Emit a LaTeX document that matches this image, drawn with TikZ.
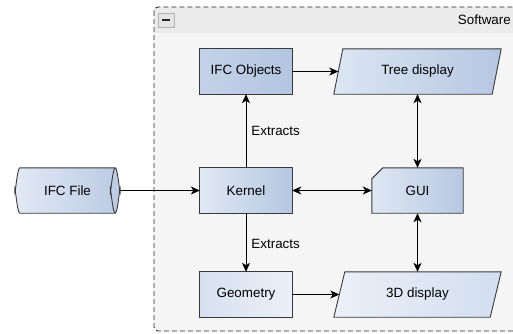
\documentclass[tikz,border=0pt]{standalone}
\usepackage{fontspec}
\setmainfont{Liberation Sans}
\usetikzlibrary{arrows.meta}
\definecolor{headc}{HTML}{EBEBEB}
\definecolor{bodyc}{HTML}{F5F5F5}
\definecolor{edgec}{HTML}{3A3A3A}
\definecolor{objsL}{HTML}{C3D2E8}
\definecolor{objsR}{HTML}{B3C5E0}
\definecolor{kerL}{HTML}{E0E8F4}
\definecolor{kerR}{HTML}{B5C7E1}
\definecolor{geoL}{HTML}{D6E0EF}
\definecolor{geoR}{HTML}{EBF0F8}
\definecolor{guiL}{HTML}{DEE7F3}
\definecolor{guiR}{HTML}{B7C8E2}
\definecolor{treeL}{HTML}{DCE6F3}
\definecolor{treeR}{HTML}{B6C7E2}
\definecolor{dispL}{HTML}{EBF0F8}
\definecolor{dispR}{HTML}{D2DEEF}
\definecolor{fileL}{HTML}{E2E9F5}
\definecolor{fileR}{HTML}{BACBE4}
\definecolor{minusc}{HTML}{E4E4E4}
\pgfdeclarelayer{bg}
\pgfdeclarelayer{shp}
\pgfsetlayers{bg,shp,main}
\begin{document}
\begin{tikzpicture}[x=1pt,y=-1pt,
  font=\fontsize{13.4}{16}\selectfont,
  box/.style={draw=none, minimum width=92pt, minimum height=45pt, inner sep=0pt},
  shapeline/.style={draw=edgec, line width=0.9pt},
  conn/.style={line width=0.9pt, -{Stealth[length=9pt,width=8pt,inset=2.5pt]}},
  biconn/.style={line width=0.9pt, {Stealth[length=9pt,width=8pt,inset=2.5pt]}-{Stealth[length=9pt,width=8pt,inset=2.5pt]}},
  lbl/.style={anchor=west, inner sep=0pt}
]
\useasboundingbox (0,0) rectangle (513,333);

% container
\begin{pgfonlayer}{bg}
\begin{scope}
\clip (0,0) rectangle (513,333);
\fill[bodyc, rounded corners=4pt] (154,7) rectangle (530,331);
\begin{scope}
\clip[rounded corners=4pt] (154,7) rectangle (530,331);
\fill[headc] (154,7) rectangle (530,33);
\end{scope}
\draw[black!85, line width=0.9pt, dash pattern=on 5pt off 3pt, rounded corners=4pt] (154,7) rectangle (530,331);
\end{scope}
\end{pgfonlayer}

\node[draw=black!30, fill=minusc, minimum width=16pt, minimum height=14pt, inner sep=0pt] (minus) at (166,20) {};
\draw[line width=2.2pt, black!85] ([xshift=4pt]minus.west) -- ([xshift=-4pt]minus.east);
\node[anchor=east, inner sep=0pt] (title) at (511,20) {Software};

% nodes
\node[box, minimum width=105pt] (file) at (67.5,190.5) {IFC File};
\node[box] (objs) at (246,71.5) {IFC Objects};
\node[box] (kernel) at (246,190.5) {Kernel};
\node[box] (geom) at (246,294.5) {Geometry};
\node[box, minimum width=91pt] (gui) at (417.5,190.5) {GUI};
\node[box, minimum width=158pt] (tree) at (417.5,71.5) {Tree display};
\node[box, minimum width=156pt] (disp) at (417.5,294.5) {3D display};

% shapes
\begin{pgfonlayer}{shp}
\draw[shapeline, left color=objsL, right color=objsR] (objs.north west) rectangle (objs.south east);
\draw[shapeline, left color=kerL, right color=kerR] (kernel.north west) rectangle (kernel.south east);
\draw[shapeline, left color=geoL, right color=geoR] (geom.north west) rectangle (geom.south east);
\draw[shapeline, left color=guiL, right color=guiR]
  ([xshift=11pt]gui.north west) -- (gui.north east) -- (gui.south east) -- (gui.south west) -- ([yshift=-11pt]gui.north west) -- cycle;
\draw[shapeline, left color=treeL, right color=treeR]
  ([xshift=4.5pt]tree.north west) -- ([xshift=4.5pt]tree.north east) -- ([xshift=-4.5pt]tree.south east) -- ([xshift=-4.5pt]tree.south west) -- cycle;
\draw[shapeline, left color=dispL, right color=dispR]
  ([xshift=5.5pt]disp.north west) -- ([xshift=5.5pt]disp.north east) -- ([xshift=-5.5pt]disp.south east) -- ([xshift=-5.5pt]disp.south west) -- cycle;
% cylinder
\draw[shapeline, left color=fileL, right color=fileR]
  ([xshift=5pt]file.north west) -- ([xshift=-5pt]file.north east)
  .. controls ([xshift=-2.2pt]file.north east) and ([yshift=-10pt]file.east) .. (file.east)
  .. controls ([yshift=10pt]file.east) and ([xshift=-2.2pt]file.south east) .. ([xshift=-5pt]file.south east)
  -- ([xshift=5pt]file.south west)
  .. controls ([xshift=2.2pt]file.south west) and ([yshift=10pt]file.west) .. (file.west)
  .. controls ([yshift=-10pt]file.west) and ([xshift=2.2pt]file.north west) .. ([xshift=5pt]file.north west) -- cycle;
\draw[shapeline]
  ([xshift=-5pt]file.north east)
  .. controls ([xshift=-7.8pt]file.north east) and ([xshift=-10pt,yshift=-10pt]file.east) .. ([xshift=-10pt]file.east)
  .. controls ([xshift=-10pt,yshift=10pt]file.east) and ([xshift=-7.8pt]file.south east) .. ([xshift=-5pt]file.south east);
\end{pgfonlayer}

% connectors
\draw[conn] (file) -- (kernel);
\draw[conn] (kernel) -- node[lbl, pos=0.5, xshift=5pt] (ex1) {Extracts} (objs);
\draw[conn] (kernel) -- node[lbl, pos=0.53, xshift=5pt] (ex2) {Extracts} (geom);
\draw[conn] (objs) -- (tree);
\draw[conn] (geom.east) -- (disp.west);
\draw[biconn] (kernel) -- (gui);
\draw[biconn] (gui) -- (tree);
\draw[biconn] (gui) -- (disp);
\end{tikzpicture}
\end{document}
